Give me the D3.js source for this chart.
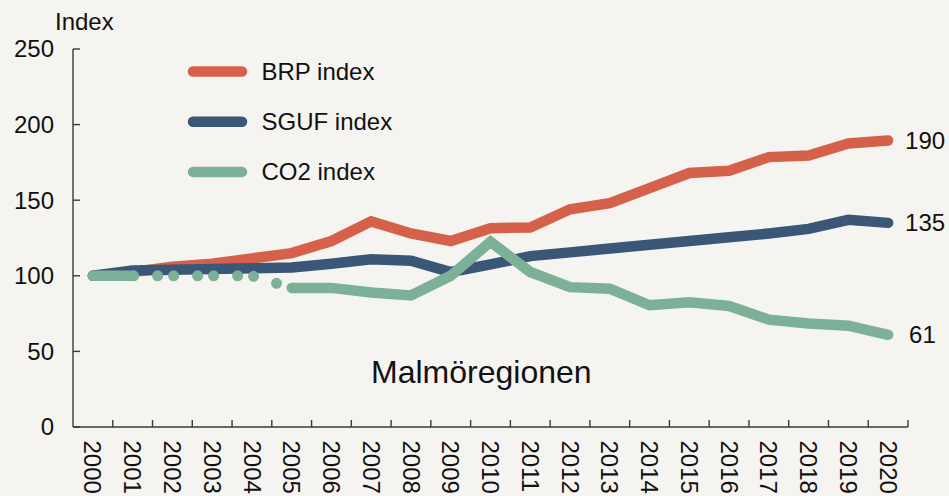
<!DOCTYPE html>
<html>
<head>
<meta charset="utf-8">
<script src="https://cdn.jsdelivr.net/npm/d3@7"></script>
<style>
  html, body { margin: 0; padding: 0; background: #f5f4f0; }
  svg { display: block; font-family: "Liberation Sans", Arial, sans-serif; }
</style>
</head>
<body>
<script>
const years = d3.range(2000, 2021);
const brp = [100, 102.5, 106, 108, 111.5, 115, 123, 136, 128, 123, 131.5, 132, 144, 148, 158, 168, 169.5, 178.5, 179.5, 187.5, 189.5];
const sguf = [100, 103.5, 104, 104.5, 105, 105.5, 108, 111, 110, 102.5, 107.5, 113, 115.5, 118, 120.5, 123, 125.5, 128, 131, 137, 135];
const co2 = [100, 100, 100, 100, 100, 92, 92, 89, 87, 100, 122.5, 102.5, 92.5, 91.5, 80.5, 82.5, 80, 71, 68.5, 67, 61];
const co2Dotted = [2001, 2005]; // segment drawn dotted
const yTicks = [0, 50, 100, 150, 200, 250];

const series = [
  { name: "BRP index", values: brp, color: "#d6614a" },
  { name: "SGUF index", values: sguf, color: "#3a5777" },
  { name: "CO2 index", values: co2, color: "#7db197" }
];

const width = 949;
const height = 496;
const lineW = 10.5;

const svg = d3.select("body").append("svg")
  .attr("width", width)
  .attr("height", height);

svg.append("rect").attr("width", width).attr("height", height).attr("fill", "#f5f4f0");

const x = d3.scaleBand().domain(years).range([73, 908]).padding(0);
const y = d3.scaleLinear().domain([0, 250]).range([427, 49]);
const cx = (yr) => x(yr) + x.bandwidth() / 2;

// y axis
const axisColor = "#3a3a3a";
svg.append("line")
  .attr("x1", 73).attr("x2", 73)
  .attr("y1", y(250)).attr("y2", y(0))
  .attr("stroke", axisColor).attr("stroke-width", 1.4);

svg.selectAll(".ytick").data(yTicks).enter().append("line")
  .attr("x1", 73).attr("x2", 80)
  .attr("y1", (d) => y(d)).attr("y2", (d) => y(d))
  .attr("stroke", axisColor).attr("stroke-width", 1.4);

svg.selectAll(".ylab").data(yTicks).enter().append("text")
  .attr("x", 54)
  .attr("y", (d) => y(d))
  .attr("dy", "0.35em")
  .attr("text-anchor", "end")
  .attr("font-size", 24)
  .attr("fill", "#111")
  .text((d) => d);

svg.append("text")
  .attr("x", 55).attr("y", 30)
  .attr("font-size", 24)
  .attr("fill", "#111")
  .text("Index");

// x axis
svg.append("line")
  .attr("x1", 73).attr("x2", 908)
  .attr("y1", y(0)).attr("y2", y(0))
  .attr("stroke", axisColor).attr("stroke-width", 1.4);

const edges = years.map((yr) => x(yr)).concat([x(2020) + x.bandwidth()]);
svg.selectAll(".xtick").data(edges.slice(1)).enter().append("line")
  .attr("x1", (d) => d).attr("x2", (d) => d)
  .attr("y1", y(0)).attr("y2", y(0) - 7)
  .attr("stroke", axisColor).attr("stroke-width", 1.4);

svg.selectAll(".xlab").data(years).enter().append("text")
  .attr("transform", (d) => `translate(${cx(d)}, 440.5) rotate(90)`)
  .attr("dy", "0.35em")
  .attr("font-size", 24)
  .attr("fill", "#111")
  .text((d) => d);

// lines
const line = d3.line()
  .x((d) => cx(d.year))
  .y((d) => y(d.value));

const pts = (s) => years.map((yr, i) => ({ year: yr, value: s.values[i] }));

series.forEach((s) => {
  const p = pts(s);
  let parts;
  if (s.name === "CO2 index") {
    parts = [
      { data: p.filter((d) => d.year <= co2Dotted[0]), dotted: false },
      { data: p.filter((d) => d.year >= co2Dotted[0] && d.year <= co2Dotted[1]), dotted: true },
      { data: p.filter((d) => d.year >= co2Dotted[1]), dotted: false }
    ];
  } else {
    parts = [{ data: p, dotted: false }];
  }
  parts.forEach((part) => {
    const path = svg.append("path")
      .datum(part.data)
      .attr("d", line)
      .attr("fill", "none")
      .attr("stroke", s.color)
      .attr("stroke-width", part.dotted ? 11 : lineW)
      .attr("stroke-linecap", "round")
      .attr("stroke-linejoin", "miter");
    if (part.dotted) {
      path.attr("stroke-dasharray", "0 16 0 24").attr("stroke-dashoffset", 15);
    }
  });
});

// end labels
svg.selectAll(".endlab").data(series).enter().append("text")
  .attr("x", (s) => cx(2020) + (s.values[s.values.length - 1] < 100 ? 21 : 17))
  .attr("y", (s) => y(s.values[s.values.length - 1]))
  .attr("dy", "0.35em")
  .attr("font-size", 24)
  .attr("fill", "#111")
  .text((s) => Math.round(s.values[s.values.length - 1]));

// legend
const legend = svg.selectAll(".leg").data(series).enter().append("g")
  .attr("transform", (s, i) => `translate(0, ${71.5 + i * 50.2})`);

legend.append("line")
  .attr("x1", 193).attr("x2", 242)
  .attr("stroke", (s) => s.color)
  .attr("stroke-width", lineW)
  .attr("stroke-linecap", "round");

legend.append("text")
  .attr("x", 261.5)
  .attr("dy", "0.35em")
  .attr("font-size", 24)
  .attr("fill", "#111")
  .text((s) => s.name);

svg.append("text")
  .attr("x", 371).attr("y", 382.7)
  .attr("font-size", 32)
  .attr("fill", "#111")
  .text("Malmöregionen");
</script>
</body>
</html>
